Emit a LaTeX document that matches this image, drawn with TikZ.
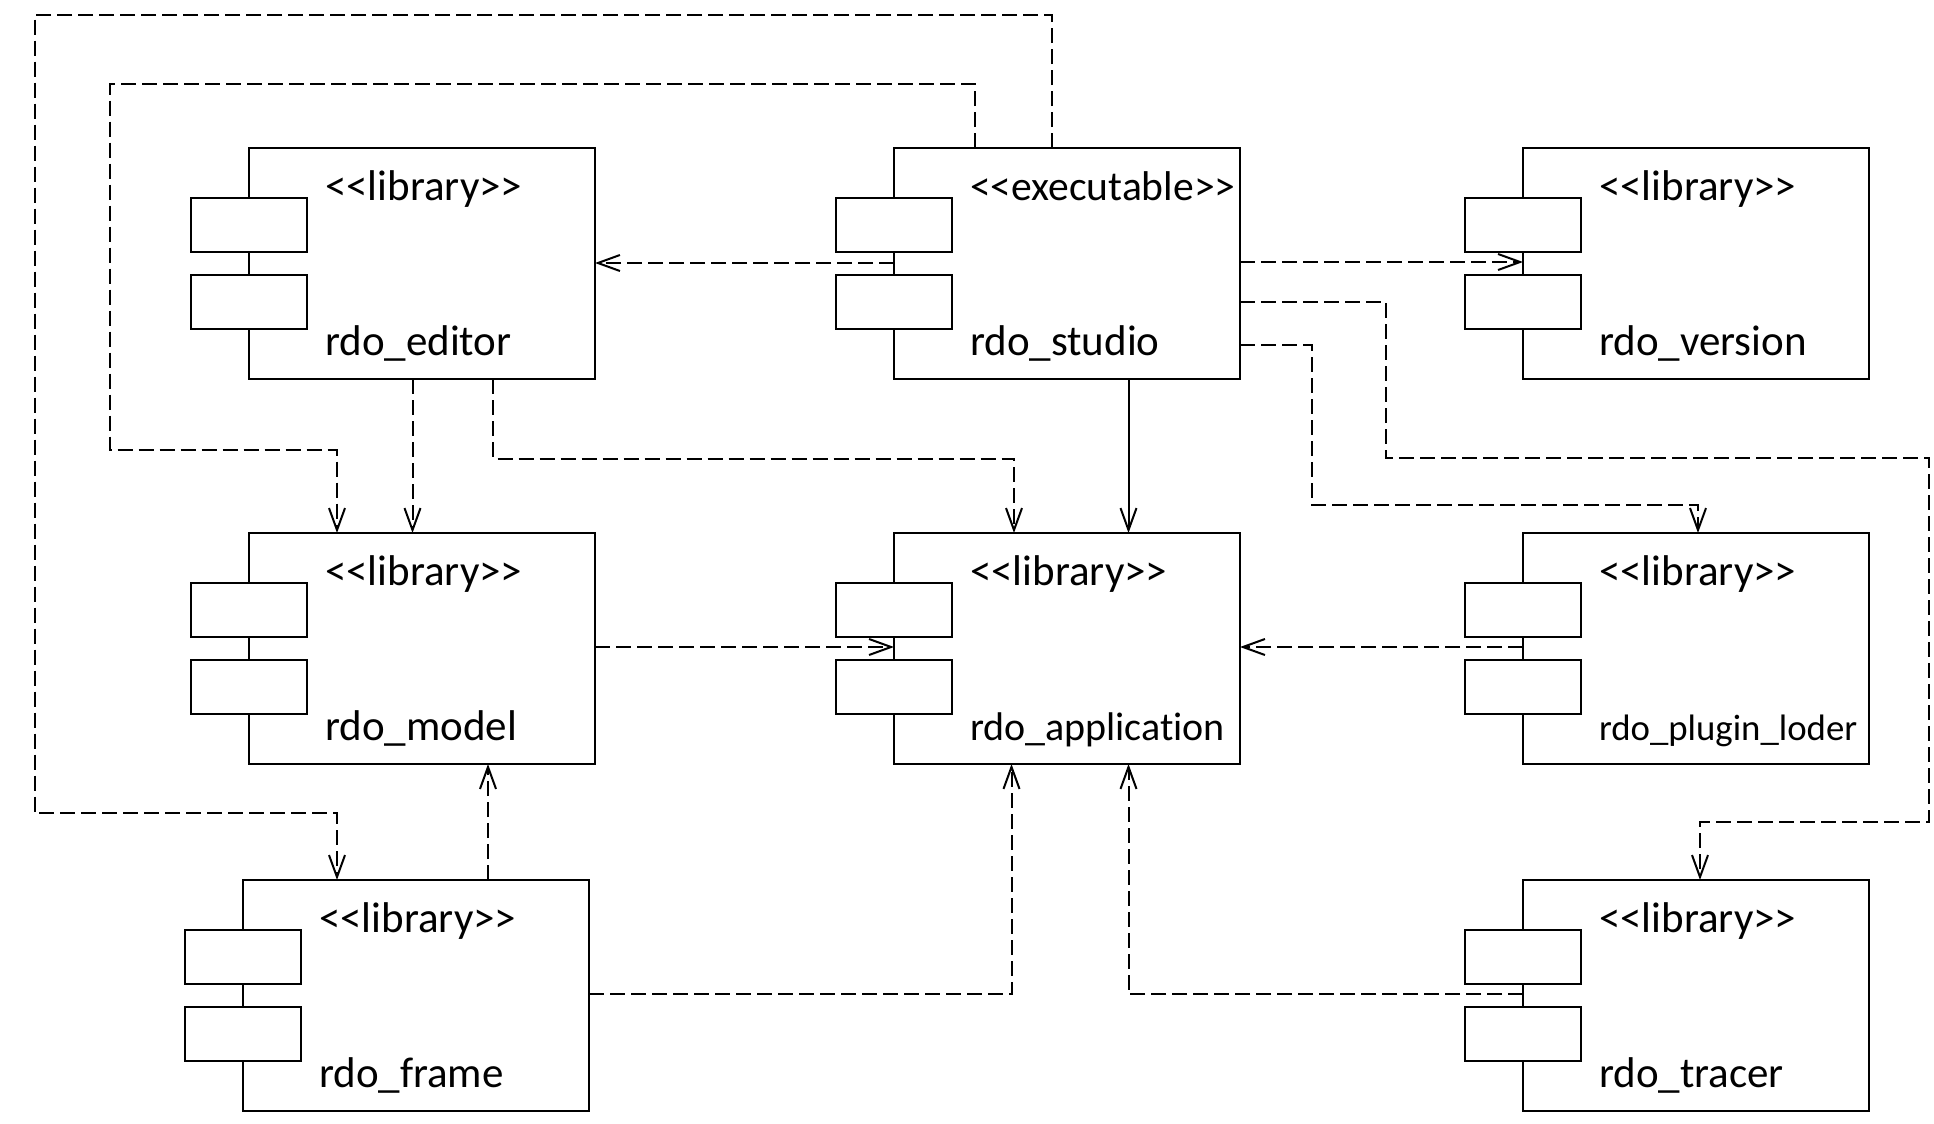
\documentclass[tikz,border=0pt]{standalone}
\usepackage{fontspec}
\setmainfont{Carlito}[Ligatures=NoCommon]
\usetikzlibrary{arrows.meta}
\newcommand{\smalltitle}{\fontsize{18.4}{20}\selectfont}
\newcommand{\midtitle}{\fontsize{20}{22}\selectfont}
\newcommand{\widekind}{\fontsize{20.8}{23}\selectfont}
\tikzset{
    component/.style={draw,minimum width=173pt,minimum height=115.5pt,anchor=north west,inner sep=0pt,outer sep=0pt},
    port/.style={draw,fill=white,minimum width=58pt,minimum height=27pt,inner sep=0pt},
    caption/.style={anchor=base west,inner sep=0pt,font=\fontsize{21.5}{24}\selectfont},
    dep/.style={->,dash pattern=on 7.5pt off 3pt},
}
\begin{document}
\begin{tikzpicture}[x=0.5pt,y=-0.5pt,line width=1pt,>={Straight Barb[length=11pt,width=8pt]}]
    \useasboundingbox (0,0) rectangle (1934,1124);
    %% components
    \foreach \name/\x/\y/\kind/\title in {
        editor/249/148/{<{}<library>{}>}/rdo\_editor,
        studio/894/148/{\widekind <{}<executable>{}>}/rdo\_studio,
        version/1523/148/{<{}<library>{}>}/rdo\_version,
        model/249/533/{<{}<library>{}>}/rdo\_model,
        application/894/533/{<{}<library>{}>}/{\midtitle rdo\_application},
        plugin/1523/533/{<{}<library>{}>}/{\smalltitle rdo\_plugin\_loder},
        frame/243/880/{<{}<library>{}>}/rdo\_frame,
        tracer/1523/880/{<{}<library>{}>}/rdo\_tracer}
    {
        \node[component] (\name) at (\x,\y) {};
        \node[port] (\name top) at ([shift={(0,77)}]\name.north west) {};
        \node[port] (\name bottom) at ([shift={(0,154)}]\name.north west) {};
        \node[caption] (\name kind) at ([shift={(75,52.5)}]\name.north west) {\kind};
        \node[caption] (\name title) at ([shift={(75,207)}]\name.north west) {\title};
    }
    %% dependencies of studio
    \draw[dep] ([shift={(158,0)}]studio.north west) -- (1052,15) -- (34.5,15) -- (34.5,813) -- (337,813) -- ([shift={(94,0)}]frame.north west);
    \draw[dep] ([shift={(80.5,0)}]studio.north west) -- (974.5,84) -- (110,84) -- (110,450) -- (337,450) -- ([shift={(88,0)}]model.north west);
    \draw[dep] ([shift={(0,115)}]studio.north west) -- ([shift={(0,115)}]editor.north east);
    \draw[dep] ([shift={(0,114)}]studio.north east) -- ([shift={(0,114)}]version.north west);
    \draw[dep] ([shift={(0,154)}]studio.north east) -- (1386,302) -- (1386,458) -- (1929,458) -- (1929,821.5) -- (1700,821.5) -- ([shift={(177,0)}]tracer.north west);
    \draw[dep] ([shift={(0,197)}]studio.north east) -- (1312,345) -- (1312,505) -- (1698,505) -- ([shift={(175,0)}]plugin.north west);
    \draw[->] ([shift={(234.5,0)}]studio.south west) -- ([shift={(234.5,0)}]application.north west);
    %% dependencies of editor
    \draw[dep] ([shift={(163.5,0)}]editor.south west) -- ([shift={(163.5,0)}]model.north west);
    \draw[dep] ([shift={(244,0)}]editor.south west) -- (493,458.5) -- (1014,458.5) -- ([shift={(120,0)}]application.north west);
    %% dependencies on application
    \draw[dep] ([shift={(0,114)}]model.north east) -- ([shift={(0,114)}]application.north west);
    \draw[dep] ([shift={(0,114)}]plugin.north west) -- ([shift={(0,114)}]application.north east);
    \draw[dep] ([shift={(0,114)}]frame.north east) -- (1011.5,994) -- ([shift={(117.5,0)}]application.south west);
    \draw[dep] ([shift={(0,114)}]tracer.north west) -- (1128.5,994) -- ([shift={(234.5,0)}]application.south west);
    \draw[dep] ([shift={(245,0)}]frame.north west) -- ([shift={(239,0)}]model.south west);
\end{tikzpicture}
\end{document}
